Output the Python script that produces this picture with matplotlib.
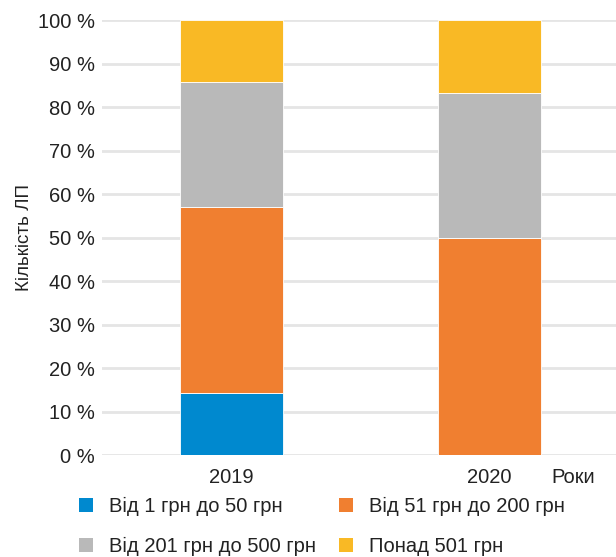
import matplotlib.pyplot as plt
import numpy as np
from matplotlib.patches import Patch

plt.rcParams['font.family'] = ['Liberation Sans', 'DejaVu Sans']

years = ["2019", "2020"]
labels = ["Від 1 грн до 50 грн", "Від 51 грн до 200 грн",
          "Від 201 грн до 500 грн", "Понад 501 грн"]
share_1_50 = [14.3, 0.0]
share_51_200 = [42.8, 50.0]
share_201_500 = [28.6, 33.3]
share_501 = [14.3, 16.7]
yticks = [0, 10, 20, 30, 40, 50, 60, 70, 80, 90, 100]

colors = ["#0089cf", "#f07f30", "#b9b9b9", "#f9b925"]
series = [share_1_50, share_51_200, share_201_500, share_501]
txt = "#222222"
fs = 14.5

fig = plt.figure(figsize=(6.16, 5.57), dpi=100)
ax = fig.add_axes([0.166, 0.183, 0.838, 0.781])

x = np.arange(len(years))
bottom = np.zeros(len(years))
for vals, c in zip(series, colors):
    vals = np.array(vals)
    ax.bar(x, vals, 0.4, bottom=bottom, color=c, edgecolor="#ffffff",
           linewidth=0.6, zorder=3)
    bottom += vals

ax.set_xlim(-0.5, 1.5)
ax.set_ylim(0, 100)
ax.set_yticks(yticks)
ax.set_yticklabels([f"{t} %" for t in yticks])
ax.set_xticks(x)
ax.set_xticklabels(years)
ax.tick_params(axis="both", length=0, labelsize=fs, colors=txt)
ax.tick_params(axis="y", pad=5.5)
ax.tick_params(axis="x", pad=9)
ax.grid(axis="y", color="#e5e5e5", linewidth=2, zorder=0)
for s in ax.spines.values():
    s.set_visible(False)

ax.set_ylabel("Кількість ЛП", fontsize=13.5, color=txt, labelpad=3)
ax.text(0.871, -0.051, "Роки", transform=ax.transAxes, fontsize=fs,
        color=txt, ha="left", va="center")

# two single-column legends so each column sits where it should
leg_kw = dict(ncol=1, frameon=False, loc="upper left", fontsize=fs,
              handlelength=0.7, handleheight=0.7, handletextpad=0.8,
              labelspacing=1.05, borderaxespad=0, borderpad=0,
              labelcolor=txt)
h = [Patch(facecolor=c, edgecolor="none") for c in colors]
fig.legend([h[0], h[2]], [labels[0], labels[2]],
           bbox_to_anchor=(0.128, 0.108), **leg_kw)
fig.legend([h[1], h[3]], [labels[1], labels[3]],
           bbox_to_anchor=(0.550, 0.108), **leg_kw)

plt.savefig("out.png", dpi=100)
